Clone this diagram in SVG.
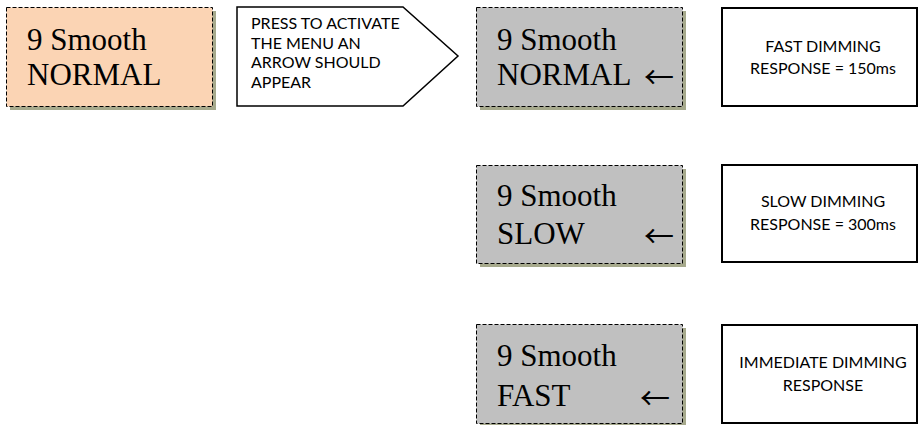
<svg xmlns="http://www.w3.org/2000/svg" width="918" height="425" viewBox="0 0 918 425">
<style>
.shadow{fill:#a6a98c}
.peach{fill:#fbd4b4;stroke:#000;stroke-width:1;stroke-dasharray:4 2}
.gray{fill:#c0c0c0;stroke:#000;stroke-width:1;stroke-dasharray:4 2}
.lcd{font-family:"Liberation Serif","Times New Roman",serif;font-size:31px;fill:#000}
.arr{font-family:"Noto Sans CJK JP","Liberation Serif",serif;font-size:30px;fill:#000}
.note{fill:#fff;stroke:#000;stroke-width:2}
.lbl{font-family:Lato,"Liberation Sans",sans-serif;font-size:16px;fill:#000}
.mid{text-anchor:middle}
</style>
<rect width="918" height="425" fill="#fff"/>
<g id="start-display">
<rect class="shadow" x="10" y="11" width="206" height="99"/>
<rect class="peach" x="6.5" y="7.5" width="206" height="99"/>
<text class="lcd" x="27" y="50">9 Smooth</text>
<text class="lcd" x="27" y="85">NORMAL</text>
</g>
<g id="press-note">
<polygon points="237,7 403,7 458,56 403,106 237,106" fill="#fff" stroke="#000" stroke-width="1.5"/>
<text class="lbl" x="251" y="29">PRESS TO ACTIVATE</text>
<text class="lbl" x="251" y="48.5">THE MENU  AN</text>
<text class="lbl" x="251" y="68">ARROW SHOULD</text>
<text class="lbl" x="251" y="87.5">APPEAR</text>
</g>
<g id="normal-display">
<rect class="shadow" x="480" y="11" width="206" height="99"/>
<rect class="gray" x="476.5" y="7.5" width="206" height="99"/>
<text class="lcd" x="497" y="50">9 Smooth</text>
<text class="lcd" x="497" y="85">NORMAL</text>
<text class="arr" x="644" y="88">←</text>
</g>
<g id="normal-note">
<rect class="note" x="722" y="8" width="195" height="98"/>
<text class="lbl mid" x="823" y="52">FAST DIMMING</text>
<text class="lbl mid" x="823" y="74">RESPONSE = 150ms</text>
</g>
<g id="slow-display">
<rect class="shadow" x="480" y="169" width="206" height="98"/>
<rect class="gray" x="476.5" y="165.5" width="206" height="98"/>
<text class="lcd" x="497" y="206">9 Smooth</text>
<text class="lcd" x="497" y="244">SLOW</text>
<text class="arr" x="644" y="247">←</text>
</g>
<g id="slow-note">
<rect class="note" x="722" y="165" width="195" height="97"/>
<text class="lbl mid" x="823" y="207">SLOW DIMMING</text>
<text class="lbl mid" x="823" y="230">RESPONSE = 300ms</text>
</g>
<g id="fast-display">
<rect class="shadow" x="480" y="328" width="206" height="99"/>
<rect class="gray" x="476.5" y="324.5" width="206" height="99"/>
<text class="lcd" x="497" y="366">9 Smooth</text>
<text class="lcd" x="497" y="406">FAST</text>
<text class="arr" x="640" y="409">←</text>
</g>
<g id="fast-note">
<rect class="note" x="722" y="325" width="195" height="98"/>
<text class="lbl mid" x="823" y="368">IMMEDIATE DIMMING</text>
<text class="lbl mid" x="823" y="391">RESPONSE</text>
</g>
<g id="connectors"></g>
</svg>
